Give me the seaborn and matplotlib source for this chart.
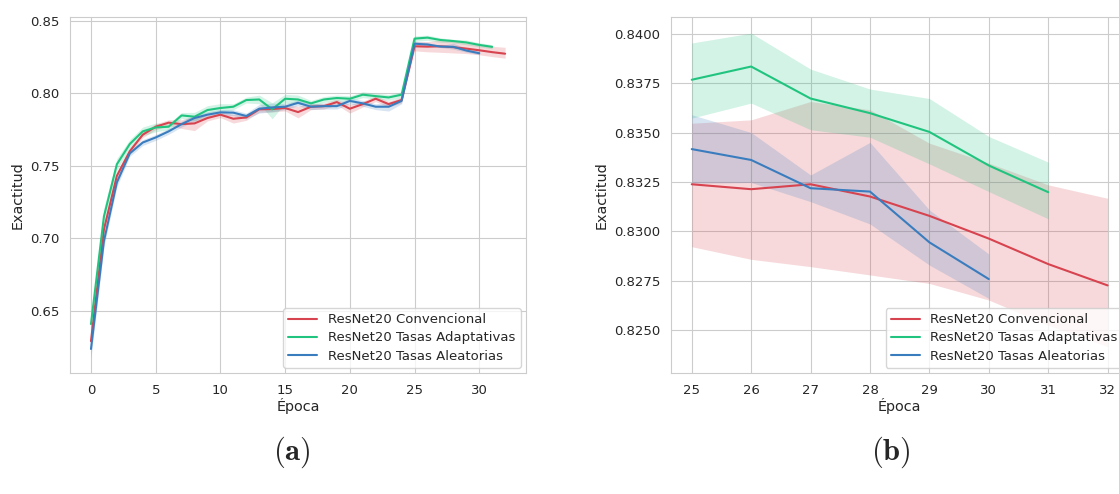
import matplotlib
matplotlib.use("Agg")
import matplotlib.pyplot as plt
import numpy as np
import pandas as pd
import seaborn as sns

# Series labels and colours
labels = ["ResNet20 Convencional", "ResNet20 Tasas Adaptativas", "ResNet20 Tasas Aleatorias"]
colors = ["#d7434f", "#21c47f", "#3a7dbf"]

# Mean accuracy per epoch
conv_mean = [0.629, 0.706, 0.743, 0.760, 0.7714, 0.7769, 0.7797, 0.7787, 0.7792, 0.7829,
             0.7852, 0.7824, 0.7833, 0.7889, 0.7891, 0.7898, 0.7870, 0.7907, 0.7911, 0.7939,
             0.7893, 0.7925, 0.7962, 0.7925, 0.7953, 0.83238, 0.83213, 0.83238, 0.83176,
             0.83078, 0.82963, 0.82834, 0.82726]
adap_mean = [0.6408, 0.715, 0.751, 0.765, 0.7737, 0.7764, 0.7769, 0.7847, 0.7838, 0.7884,
             0.7898, 0.7907, 0.7953, 0.7957, 0.7889, 0.7962, 0.7957, 0.7930, 0.7957, 0.7967,
             0.7962, 0.7990, 0.7980, 0.7971, 0.7990, 0.83767, 0.83834, 0.83672, 0.83598,
             0.83503, 0.83333, 0.83198]
alea_mean = [0.6236, 0.698, 0.7385, 0.7585, 0.766, 0.7695, 0.7737, 0.7787, 0.7829, 0.7852,
             0.7868, 0.7866, 0.7843, 0.7893, 0.7902, 0.7907, 0.7934, 0.7907, 0.7911, 0.7911,
             0.7947, 0.7930, 0.7907, 0.7907, 0.7947, 0.83416, 0.83361, 0.83218, 0.83201,
             0.82944, 0.82758]

# Lower / upper edge of the confidence band
conv_lo = [0.625, 0.702, 0.740, 0.758, 0.7694, 0.7749, 0.7777, 0.7757, 0.7742, 0.7809,
           0.7832, 0.7794, 0.7813, 0.7869, 0.7871, 0.7878, 0.7830, 0.7887, 0.7891, 0.7919,
           0.7863, 0.7905, 0.7942, 0.7905, 0.7933, 0.82922, 0.82858, 0.82821, 0.82779,
           0.82736, 0.82652, 0.82525, 0.82416]
conv_hi = [0.633, 0.710, 0.746, 0.762, 0.7734, 0.7789, 0.7817, 0.7817, 0.7842, 0.7849,
           0.7872, 0.7854, 0.7853, 0.7909, 0.7911, 0.7918, 0.7910, 0.7927, 0.7931, 0.7959,
           0.7923, 0.7945, 0.7982, 0.7945, 0.7973, 0.83547, 0.83564, 0.83657, 0.83615,
           0.83446, 0.83345, 0.83235, 0.83167]
adap_lo = [0.6368, 0.709, 0.747, 0.762, 0.7707, 0.7734, 0.7749, 0.7827, 0.7808, 0.7854,
           0.7868, 0.7887, 0.7933, 0.7927, 0.7824, 0.7932, 0.7927, 0.7910, 0.7937, 0.7947,
           0.7942, 0.7970, 0.7960, 0.7951, 0.7970, 0.83573, 0.83649, 0.83514, 0.83476,
           0.83341, 0.83201, 0.83063]
adap_hi = [0.6448, 0.721, 0.755, 0.768, 0.7767, 0.7794, 0.7789, 0.7867, 0.7868, 0.7914,
           0.7928, 0.7927, 0.7973, 0.7987, 0.7934, 0.7992, 0.7987, 0.7950, 0.7977, 0.7987,
           0.7982, 0.8010, 0.8000, 0.7991, 0.8010, 0.83953, 0.84003, 0.83821, 0.8372,
           0.83672, 0.8348, 0.8335]
alea_lo = [0.6176, 0.694, 0.7355, 0.7565, 0.764, 0.7675, 0.7717, 0.7767, 0.7809, 0.7832,
           0.7848, 0.7846, 0.7823, 0.7863, 0.7872, 0.7887, 0.7914, 0.7887, 0.7891, 0.7891,
           0.7927, 0.7910, 0.7887, 0.7877, 0.7927, 0.83243, 0.83247, 0.8315, 0.83037,
           0.82829, 0.8266]
alea_hi = [0.6296, 0.702, 0.7415, 0.7605, 0.768, 0.7715, 0.7757, 0.7807, 0.7849, 0.7872,
           0.7888, 0.7886, 0.7863, 0.7923, 0.7932, 0.7927, 0.7954, 0.7927, 0.7931, 0.7931,
           0.7967, 0.7950, 0.7927, 0.7937, 0.7967, 0.8359, 0.835, 0.83285, 0.8345,
           0.83108, 0.82885]

means = [conv_mean, adap_mean, alea_mean]
lows = [conv_lo, adap_lo, alea_lo]
highs = [conv_hi, adap_hi, alea_hi]

# Tick values
yticks_a = [0.65, 0.70, 0.75, 0.80, 0.85]
xticks_a = [0, 5, 10, 15, 20, 25, 30]
yticks_b = [0.8250, 0.8275, 0.8300, 0.8325, 0.8350, 0.8375, 0.8400]
xticks_b = [25, 26, 27, 28, 29, 30, 31, 32]

sns.set_style("whitegrid")
plt.rcParams['font.family'] = ['DejaVu Sans']
plt.rcParams['mathtext.fontset'] = 'cm'

fig = plt.figure(figsize=(11.19, 4.94), dpi=100)
ax_a = fig.add_axes([0.0628, 0.2443, 0.4071, 0.7206])
ax_b = fig.add_axes([0.5996, 0.2443, 0.4088, 0.7206])

# Long table for seaborn
rows = []
for lab, m in zip(labels, means):
    for ep, v in enumerate(m):
        rows.append({"Época": ep, "Exactitud": v, "serie": lab})
df = pd.DataFrame(rows)


def draw(ax, first_epoch):
    sub = df[df["Época"] >= first_epoch]
    sns.lineplot(data=sub, x="Época", y="Exactitud", hue="serie",
                 hue_order=labels, palette=colors, linewidth=1.5,
                 legend=False, ax=ax)
    for lo, hi, c in zip(lows, highs, colors):
        ep = np.arange(len(lo))
        keep = ep >= first_epoch
        ax.fill_between(ep[keep], np.array(lo)[keep], np.array(hi)[keep],
                        color=c, alpha=0.2, linewidth=0)
    handles = ax.get_lines()[:3]
    ax.legend(handles, labels, loc="lower right", fontsize=9.5,
              handlelength=2.2, framealpha=0.8, borderaxespad=0.4,
              labelspacing=0.4)
    ax.tick_params(axis='both', labelsize=9.5, pad=4)
    ax.set_xlabel("Época", fontsize=10.4, labelpad=1)
    ax.set_ylabel("Exactitud", fontsize=10.4, labelpad=4)


draw(ax_a, 0)
ax_a.set_xlim(-1.6, 33.6)
ax_a.set_ylim(0.60683, 0.85234)
ax_a.set_xticks(xticks_a)
ax_a.set_yticks(yticks_a)
ax_a.set_yticklabels([f"{v:.2f}" for v in yticks_a])

draw(ax_b, 25)
ax_b.set_xlim(24.65, 32.35)
ax_b.set_ylim(0.82281, 0.84083)
ax_b.set_xticks(xticks_b)
ax_b.set_yticks(yticks_b)
ax_b.set_yticklabels([f"{v:.4f}" for v in yticks_b])

# Subfigure captions
fig.text(292 / 1119, 1 - 452 / 494, r"$\mathbf{(a)}$", ha="center", va="center",
         fontsize=22)
fig.text(891 / 1119, 1 - 452 / 494, r"$\mathbf{(b)}$", ha="center", va="center",
         fontsize=22)

fig.savefig("out.png", dpi=100)
